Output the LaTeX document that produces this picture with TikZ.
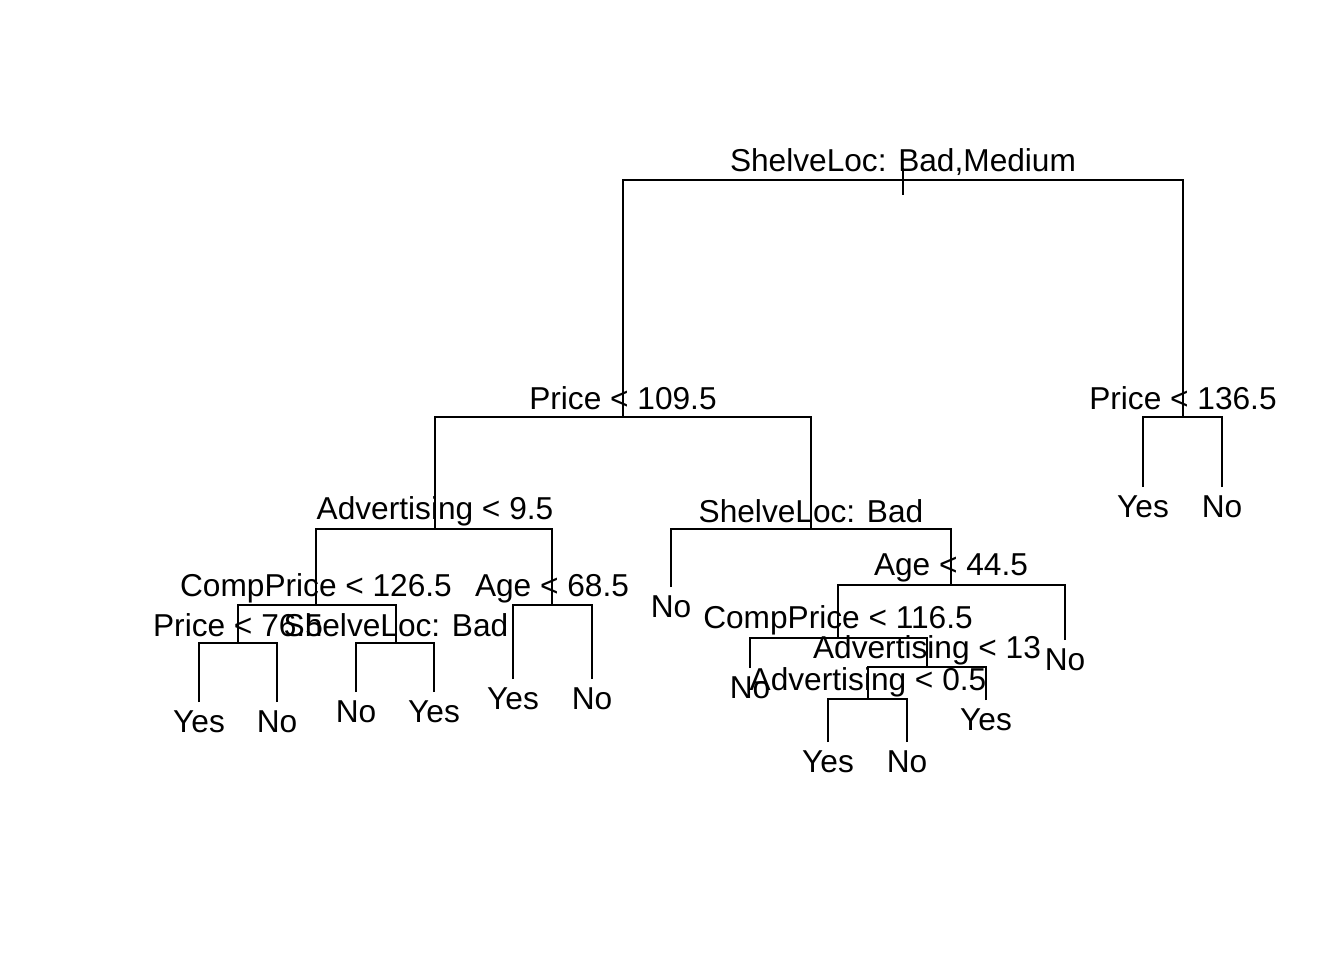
\documentclass[tikz,border=0pt]{standalone}
\usepackage{fontspec}
\setmainfont{Liberation Sans}
\begin{document}
\begin{tikzpicture}[x=0.01cm,y=-0.01cm,
  edge/.style={draw=black,line width=0.6pt},
  lab/.style={anchor=base,inner sep=0pt,outer sep=0pt,font=\fontsize{9}{10.8}\selectfont}]
\useasboundingbox (0,0) rectangle (1344,960);
% internal nodes (x, bar y)
\coordinate (root) at (903,180);
\coordinate (rtop) at (903,168);
\coordinate (rbot) at (903,195);
\coordinate (A) at (623,417);
\coordinate (B) at (1183,417);
\coordinate (A1) at (435,529);
\coordinate (A2) at (811,529);
\coordinate (C1) at (316,605);
\coordinate (C2) at (552,605);
\coordinate (D1) at (238,643);
\coordinate (D2) at (396,643);
\coordinate (E) at (951,585);
\coordinate (F) at (838,638);
\coordinate (G) at (927,667);
\coordinate (H) at (868,699);
% leaves (x, end y)
\coordinate (B1) at (1143,487);
\coordinate (B2) at (1222,487);
\coordinate (D11) at (199,702);
\coordinate (D12) at (277,702);
\coordinate (D21) at (356,692);
\coordinate (D22) at (434,692);
\coordinate (C21) at (513,679);
\coordinate (C22) at (592,679);
\coordinate (A21) at (671,587);
\coordinate (E2) at (1065,640);
\coordinate (F1) at (750,668);
\coordinate (G2) at (986,700);
\coordinate (H1) at (828,742);
\coordinate (H2) at (907,742);
% connectors
\draw[edge] (rtop) -- (rbot);
\foreach \c/\p in {A/root,B/root,A1/A,A2/A,B1/B,B2/B,C1/A1,C2/A1,D1/C1,D2/C1,
  D11/D1,D12/D1,D21/D2,D22/D2,C21/C2,C22/C2,A21/A2,E/A2,F/E,E2/E,F1/F,G/F,
  H/G,G2/G,H1/H,H2/H}
  \draw[edge] (\c) |- (\p);
% internal labels
\node[lab] (lroot) at ([yshift=0.09cm]root) {ShelveLoc: Bad,Medium};
\node[lab] (lA) at ([yshift=0.08cm]A) {Price < 109.5};
\node[lab] (lB) at ([yshift=0.08cm]B) {Price < 136.5};
\node[lab] (lA1) at ([yshift=0.1cm]A1) {Advertising < 9.5};
\node[lab] (lA2) at ([yshift=0.07cm]A2) {ShelveLoc: Bad};
\node[lab] (lC1) at ([yshift=0.09cm]C1) {CompPrice < 126.5};
\node[lab] (lC2) at ([yshift=0.09cm]C2) {Age < 68.5};
\node[lab] (lD1) at ([yshift=0.07cm]D1) {Price < 76.5};
\node[lab] (lD2) at ([yshift=0.07cm]D2) {ShelveLoc: Bad};
\node[lab] (lE) at ([yshift=0.1cm]E) {Age < 44.5};
\node[lab] (lF) at ([yshift=0.1cm]F) {CompPrice < 116.5};
\node[lab] (lG) at ([yshift=0.09cm]G) {Advertising < 13};
\node[lab] (lH) at ([yshift=0.09cm]H) {Advertising < 0.5};
% leaf labels
\foreach \n/\t in {B1/Yes,B2/No,D11/Yes,D12/No,D21/No,D22/Yes,C21/Yes,C22/No,
  A21/No,E2/No,F1/No,G2/Yes,H1/Yes,H2/No}
  \node[lab] (l\n) at ([yshift=-0.3cm]\n) {\t};
\end{tikzpicture}
\end{document}
